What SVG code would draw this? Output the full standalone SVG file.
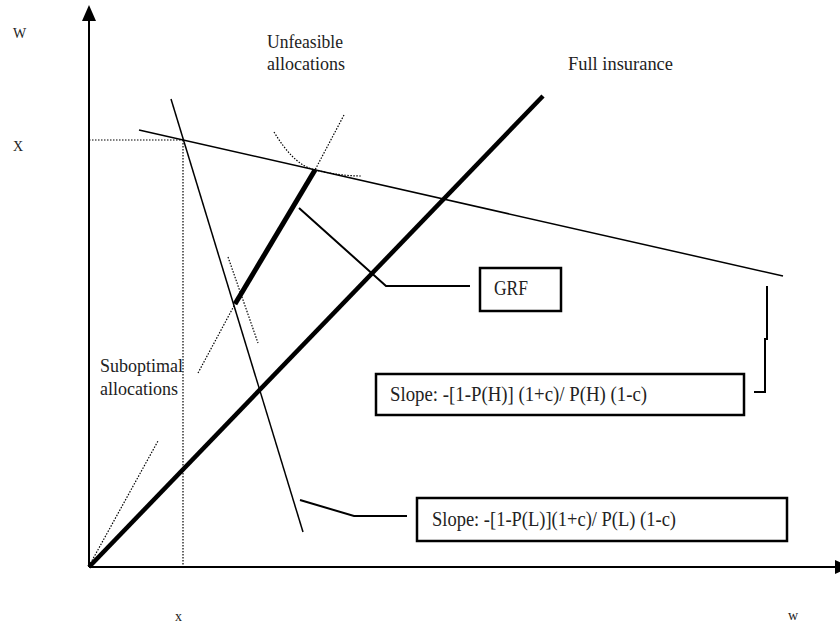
<svg xmlns="http://www.w3.org/2000/svg" width="840" height="627" viewBox="0 0 840 627">
<style>
text{font-family:"Liberation Serif","Times New Roman",serif;fill:#222;}
.lbl{font-size:19px;}
.bx{font-size:20px;}
.ax{font-size:14px;}
.thin{stroke:#000;stroke-width:1.5;fill:none;}
.dot{stroke:#000;stroke-width:1.2;stroke-dasharray:1.5 1.5;fill:none;}
.box{fill:#fff;stroke:#000;stroke-width:2.5;}
.conn{stroke:#000;stroke-width:2;fill:none;}
</style>
<rect width="840" height="627" fill="#fff"/>
<g id="axes">
<line x1="89" y1="567" x2="89" y2="20" stroke="#000" stroke-width="2"/>
<polygon points="89,5 82,21 96,21" fill="#000"/>
<line x1="89" y1="567" x2="836" y2="567" stroke="#000" stroke-width="2"/>
<polygon points="851,567 835,560 835,574" fill="#000"/>
</g>
<g id="curves">
<line class="thin" x1="139" y1="130" x2="783" y2="276"/>
<line class="thin" x1="171" y1="99" x2="303" y2="532"/>
<line x1="89" y1="567" x2="543" y2="96" stroke="#000" stroke-width="4.5"/>
<line x1="235" y1="304" x2="315" y2="170" stroke="#000" stroke-width="5"/>
<line class="dot" x1="89" y1="140" x2="183" y2="140"/>
<line class="dot" x1="183" y1="140" x2="183" y2="565"/>
<line class="dot" x1="89" y1="566" x2="158" y2="441"/>
<path class="dot" d="M274,132 C285,150 298,166 315,170 C332,174 347,176 362,176"/>
<line class="dot" x1="344" y1="115" x2="315" y2="170"/>
<line class="dot" x1="228" y1="257" x2="258" y2="343"/>
<line class="dot" x1="198" y1="373" x2="235" y2="304"/>
</g>
<g id="connectors">
<polyline class="conn" points="299,208 386,286 470,286"/>
<polyline class="conn" points="767,286 767,339 765,339 765,392 754,392" stroke-width="2.5"/>
<polyline class="conn" points="300,500 354,516 407,516"/>
</g>
<g id="label-W"><text class="ax" x="13" y="38">W</text></g>
<g id="label-X"><text class="ax" x="13" y="151">X</text></g>
<g id="label-x"><text class="ax" x="175" y="621">x</text></g>
<g id="label-w"><text class="ax" x="788" y="620">w</text></g>
<g id="label-unfeasible">
<text class="lbl" x="267" y="48" textLength="76" lengthAdjust="spacingAndGlyphs">Unfeasible</text>
<text class="lbl" x="267" y="70" textLength="78" lengthAdjust="spacingAndGlyphs">allocations</text>
</g>
<g id="label-full"><text class="lbl" x="568" y="70" textLength="105" lengthAdjust="spacingAndGlyphs">Full insurance</text></g>
<g id="label-suboptimal">
<text class="lbl" x="100" y="372" textLength="83" lengthAdjust="spacingAndGlyphs">Suboptimal</text>
<text class="lbl" x="100" y="395" textLength="78" lengthAdjust="spacingAndGlyphs">allocations</text>
</g>
<g id="node-grf">
<rect class="box" x="480" y="268" width="81" height="43"/>
<text class="bx" x="494" y="295" textLength="34" lengthAdjust="spacingAndGlyphs">GRF</text>
</g>
<g id="node-slope-h">
<rect class="box" x="376" y="374" width="368" height="41"/>
<text class="bx" x="390" y="401" textLength="257" lengthAdjust="spacingAndGlyphs">Slope: -[1-P(H)] (1+c)/ P(H) (1-c)</text>
</g>
<g id="node-slope-l">
<rect class="box" x="417" y="498" width="370" height="43"/>
<text class="bx" x="432" y="526" textLength="244" lengthAdjust="spacingAndGlyphs">Slope: -[1-P(L)](1+c)/ P(L) (1-c)</text>
</g>
</svg>
